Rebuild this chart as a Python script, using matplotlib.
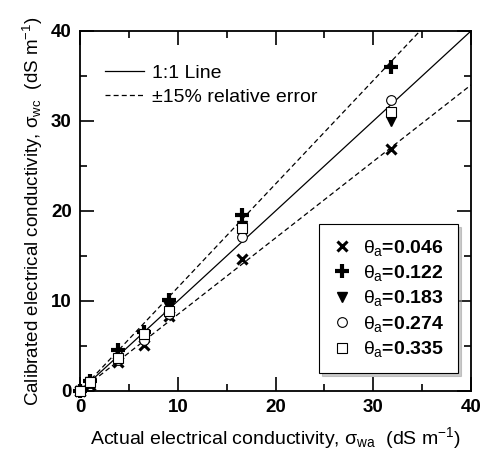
import matplotlib
matplotlib.use("Agg")
import matplotlib.pyplot as plt
import numpy as np
from matplotlib.ticker import MultipleLocator

plt.rcParams['font.family'] = ['Liberation Sans', 'DejaVu Sans']
plt.rcParams['mathtext.fontset'] = 'custom'
plt.rcParams['mathtext.rm'] = 'Liberation Sans'
plt.rcParams['mathtext.it'] = 'Liberation Sans'

# Actual conductivity of the calibration solutions (dS/m)
sigma_wa = [0.0, 1.0, 3.9, 6.5, 9.1, 16.6, 31.8]

# Calibrated conductivity for each water content
theta_labels = ["0.046", "0.122", "0.183", "0.274", "0.335"]
sigma_wc_046 = [0.0, 0.7, 3.2, 5.1, 8.3, 14.7, 26.9]
sigma_wc_122 = [0.0, 1.1, 4.6, 6.6, 10.1, 19.6, 36.0]
sigma_wc_183 = [0.0, 1.0, 3.6, 6.2, 9.3, 18.3, 30.0]
sigma_wc_274 = [0.0, 0.9, 3.4, 5.7, 8.5, 17.1, 32.3]
sigma_wc_335 = [0.0, 1.0, 3.7, 6.3, 8.9, 18.1, 31.0]

rel_err = 0.15

fig = plt.figure(figsize=(4.8, 4.55), dpi=100)
ax = fig.add_axes([0.1667, 0.1407, 0.8146, 0.7913])

xl = np.array([0, 40])
l11, = ax.plot(xl, xl, color='black', lw=0.9)
lerr, = ax.plot(xl, (1 + rel_err) * xl, color='black', lw=0.9, ls=(0, (4, 2.5)))
ax.plot(xl, (1 - rel_err) * xl, color='black', lw=0.9, ls=(0, (4, 2.5)))

series = [sigma_wc_046, sigma_wc_122, sigma_wc_183, sigma_wc_274, sigma_wc_335]
styles = [
    dict(marker='x', ms=6.5, mew=2.2, color='black', ls='none'),
    dict(marker='+', ms=10, mew=3.0, color='black', ls='none'),
    dict(marker='v', ms=7, color='black', ls='none'),
    dict(marker='o', ms=7, mfc='white', mec='black', mew=0.8, ls='none'),
    dict(marker='s', ms=6.5, mfc='white', mec='black', mew=0.8, ls='none'),
]

handles = []
for ys, st, lab in zip(series, styles, theta_labels):
    h, = ax.plot(sigma_wa, ys, label=r'$\theta_{a}$=' + lab, zorder=3, clip_on=False, **st)
    handles.append(h)

ax.set_xlim(0, 40)
ax.set_ylim(0, 40)
ax.xaxis.set_major_locator(MultipleLocator(10))
ax.xaxis.set_minor_locator(MultipleLocator(5))
ax.yaxis.set_major_locator(MultipleLocator(10))
ax.yaxis.set_minor_locator(MultipleLocator(5))
ax.tick_params(which='both', direction='in', top=True, right=True, width=1.2)
ax.tick_params(which='major', length=10, labelsize=13.5, pad=6)
ax.tick_params(which='minor', length=5)
for lab in ax.get_xticklabels() + ax.get_yticklabels():
    lab.set_fontweight('bold')
for sp in ax.spines.values():
    sp.set_linewidth(1.3)

ax.set_xlabel(r'Actual electrical conductivity, $\sigma_{\mathregular{wa}}$  (dS m$^{-1}$)',
              fontsize=14, labelpad=6)
ax.set_ylabel(r'Calibrated electrical conductivity, $\sigma_{\mathregular{wc}}$  (dS m$^{-1}$)',
              fontsize=13.5, labelpad=4)

leg1 = ax.legend([l11, lerr], ['1:1 Line', '±15% relative error'], loc='upper left',
                 bbox_to_anchor=(0.02, 0.955), frameon=False, fontsize=14,
                 handlelength=2.0, handletextpad=0.4, labelspacing=0.3)
ax.add_artist(leg1)

leg2 = ax.legend(handles=handles, loc='lower right', bbox_to_anchor=(0.967, 0.05),
                 frameon=True, fancybox=False, shadow={'color': '0.6'}, fontsize=14,
                 handlelength=1.0, handletextpad=0.6, labelspacing=0.28,
                 borderpad=0.7, borderaxespad=0.0)
leg2.get_frame().set_edgecolor('black')
leg2.get_frame().set_linewidth(0.8)
for t in leg2.get_texts():
    t.set_fontweight('bold')

fig.savefig('out.png', dpi=100)
